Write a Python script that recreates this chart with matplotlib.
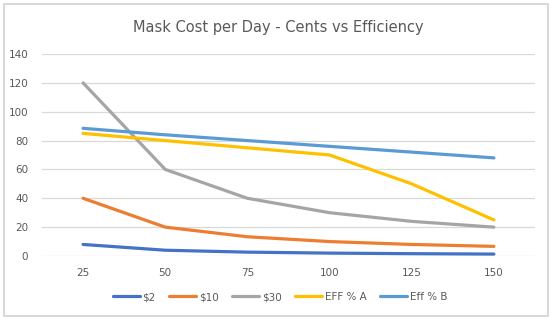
import matplotlib.pyplot as plt
import numpy as np

# data
days = ["25", "50", "75", "100", "125", "150"]
cost_2 = [8, 4, 2.67, 2, 1.6, 1.33]
cost_10 = [40, 20, 13.33, 10, 8, 6.67]
cost_30 = [120, 60, 40, 30, 24, 20]
eff_a = [85, 80, 75, 70, 50, 25]
eff_b = [88.5, 84, 80, 76, 72, 68]

series = [
    ("$2", cost_2, "#4472C4"),
    ("$10", cost_10, "#ED7D31"),
    ("$30", cost_30, "#A5A5A5"),
    ("EFF % A", eff_a, "#FFC000"),
    ("Eff % B", eff_b, "#5B9BD5"),
]

fig = plt.figure(figsize=(5.56, 3.24), dpi=100)
fig.patch.set_facecolor("white")
ax = fig.add_axes([0.0755, 0.2099, 0.8867, 0.6234])

x = np.arange(len(days))
for name, vals, col in series:
    ax.plot(x, vals, color=col, lw=2.3, label=name, solid_capstyle="round")

ax.set_xlim(-0.5, len(days) - 0.5)
ax.set_ylim(0, 140)
ax.set_yticks(range(0, 141, 20))
ax.set_xticks(x)
ax.set_xticklabels(days)
ax.grid(axis="y", color="#D9D9D9", lw=0.9)
ax.set_axisbelow(True)
for s in ax.spines.values():
    s.set_visible(False)
ax.tick_params(length=0, colors="#595959", labelsize=7.5)
ax.tick_params(axis="y", pad=10)
ax.tick_params(axis="x", pad=9)

fig.text(0.5, 0.915, "Mask Cost per Day - Cents vs Efficiency", ha="center", va="center",
         fontsize=10.5, color="#595959")

fig.legend(loc="center", bbox_to_anchor=(0.504, 0.083), ncol=5, frameon=False,
           fontsize=7.5, handlelength=2.6, columnspacing=1.3, handletextpad=0.25,
           labelcolor="#595959")

# chart frame
fig.add_artist(plt.Rectangle((0.0072, 0.0247), 0.978, 0.963, transform=fig.transFigure,
                             fill=False, edgecolor="#D9D9D9", lw=1.5))

fig.savefig("out.png", dpi=100)
